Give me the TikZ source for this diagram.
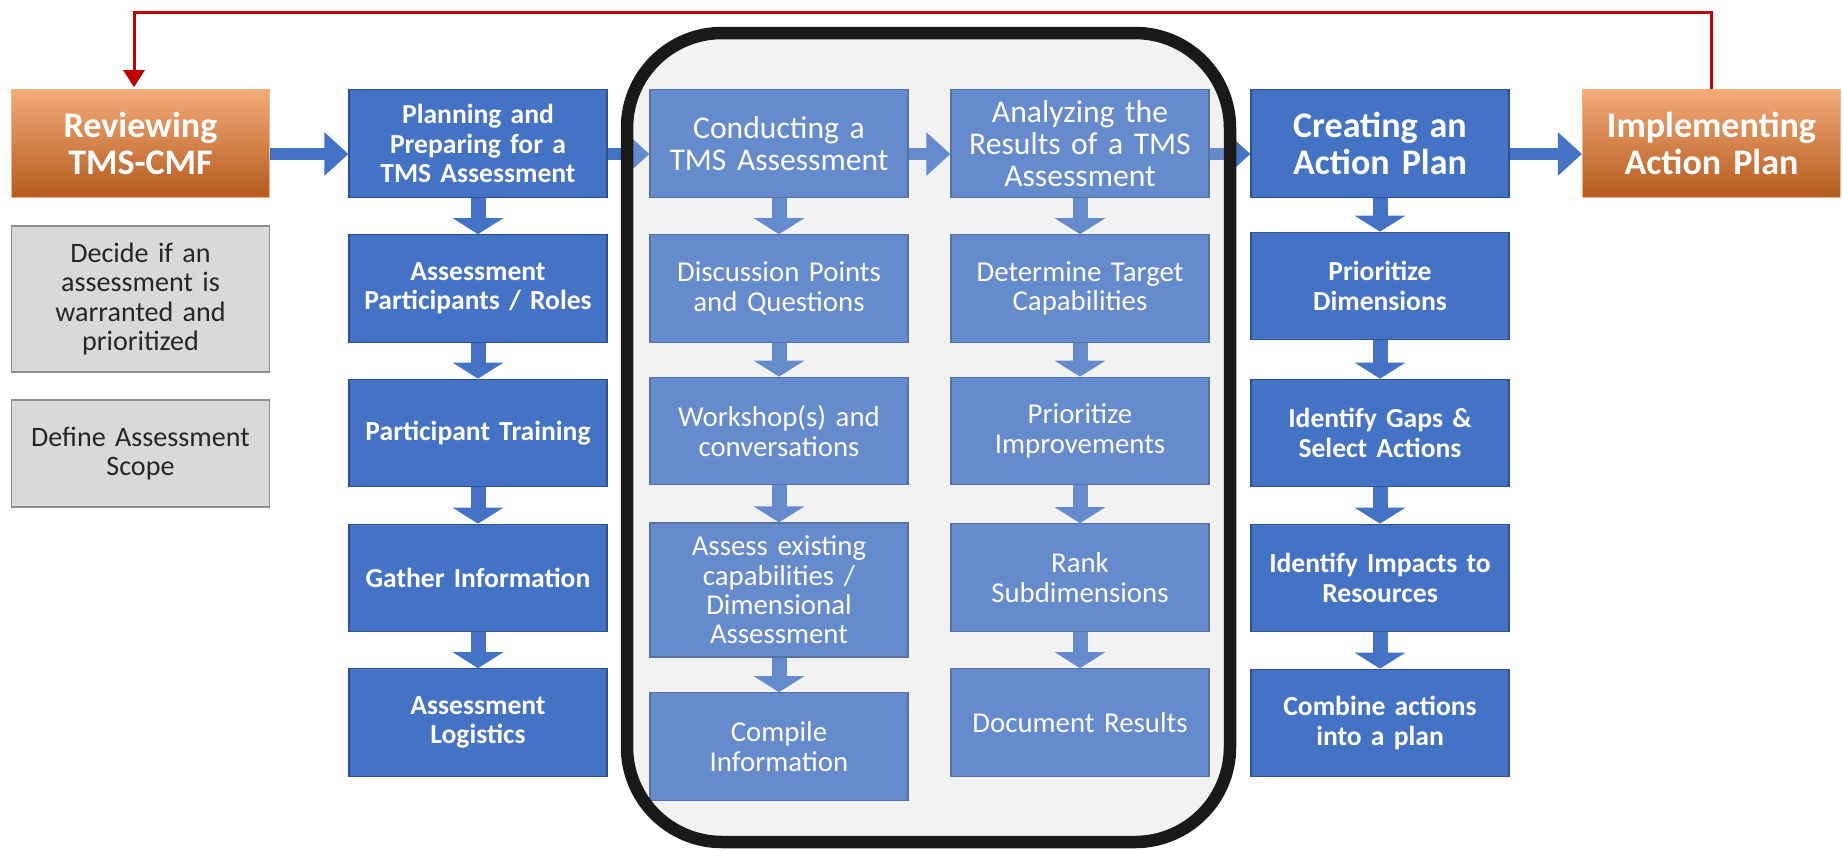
\documentclass[tikz,border=0pt]{standalone}
\usepackage{fontspec}
\setmainfont{Carlito}
\usetikzlibrary{arrows.meta}
\definecolor{boxblue}{HTML}{4472C4}
\definecolor{boxline}{HTML}{2F528F}
\definecolor{panelgray}{HTML}{F2F2F2}
\definecolor{notegray}{HTML}{D9D9D9}
\definecolor{notedraw}{HTML}{8F8F8F}
\definecolor{notetext}{HTML}{262626}
\definecolor{orangetop}{HTML}{F3AB78}
\definecolor{orangemid}{HTML}{ED7D31}
\definecolor{orangebot}{HTML}{B45A1E}
\definecolor{orangeline}{HTML}{F4B183}
\definecolor{fbred}{HTML}{C00000}
\begin{document}
\begin{tikzpicture}[x=0.02cm,y=-0.02cm,
  box/.style={rectangle,draw=boxline,line width=0.7pt,fill=boxblue,text=white,minimum width=5.16cm,minimum height=2.15cm,text width=5cm,align=center,inner sep=0pt,font=\fontsize{15.7}{16.7}\selectfont\bfseries},
  inbox/.style={box,font=\fontsize{16.4}{16.7}\selectfont},
  inhead/.style={box,font=\fontsize{18}{18.4}\selectfont},
  bigbox/.style={box,font=\fontsize{20.5}{21}\selectfont\bfseries},
  orangebox/.style={bigbox,draw=orangeline,top color=orangetop,middle color=orangemid,bottom color=orangebot},
  notebox/.style={box,fill=notegray,draw=notedraw,line width=1.1pt,text=notetext,font=\fontsize{16}{16.7}\selectfont},
  harrow/.style={draw=boxblue,line width=0.24cm,-{Triangle[width=0.84cm,length=0.48cm]}},
  darrow/.style={draw=boxblue,line width=0.3cm,-{Triangle[width=1cm,length=0.32cm]}},
  fbline/.style={draw=fbred,line width=0.06cm,-{Triangle[width=0.42cm,length=0.34cm]},shorten >=0.04cm}]
\useasboundingbox (0,0) rectangle (1843,850);
\fill[panelgray,rounded corners=1.9cm] (627,33) rectangle (1230,842);

\node[orangebox] (rev) at (140.5,143.5) {Reviewing\\TMS-CMF};
\node[box] (plan) at (478,143.5) {Planning and\\Preparing for a\\TMS Assessment};
\node[inhead] (cond) at (779,143.5) {Conducting a\\TMS Assessment};
\node[inhead] (anal) at (1080,143.5) {Analyzing the\\Results of a TMS\\Assessment};
\node[bigbox] (crea) at (1380,143.5) {Creating an\\Action Plan};
\node[orangebox] (impl) at (1711.5,143.5) {Implementing\\Action Plan};

\node[notebox,minimum height=2.92cm] (decide) at (140.5,299) {Decide if an\\assessment is\\warranted and\\prioritized};
\node[notebox] (scope) at (140.5,453.5) {Define Assessment\\Scope};

\node[box] (p1) at (478,288.5) {Assessment\\Participants / Roles};
\node[box] (p2) at (478,433) {Participant Training};
\node[box] (p3) at (478,578) {Gather Information};
\node[box] (p4) at (478,722.5) {Assessment\\Logistics};

\node[inbox] (c1) at (779,288.5) {Discussion Points\\and Questions};
\node[inbox] (c2) at (779,431) {Workshop(s) and\\conversations};
\node[inbox,minimum height=2.68cm] (c3) at (779,590) {Assess existing\\capabilities /\\Dimensional\\Assessment};
\node[inbox] (c4) at (779,746.5) {Compile\\Information};

\node[inbox] (a1) at (1080,288.5) {Determine Target\\Capabilities};
\node[inbox] (a2) at (1080,431) {Prioritize\\Improvements};
\node[inbox] (a3) at (1080,577.5) {Rank\\Subdimensions};
\node[inbox] (a4) at (1080,722.5) {Document Results};

\node[box] (r1) at (1380,286) {Prioritize\\Dimensions};
\node[box] (r2) at (1380,433) {Identify Gaps \&\\Select Actions};
\node[box] (r3) at (1380,578) {Identify Impacts to\\Resources};
\node[box] (r4) at (1380,723) {Combine actions\\into a plan};

\draw[harrow] ([yshift=-0.21cm]rev.east) -- ([yshift=-0.21cm]plan.west);
\draw[harrow] ([yshift=-0.21cm]plan.east) -- ([yshift=-0.21cm]cond.west);
\draw[harrow] ([yshift=-0.21cm]cond.east) -- ([yshift=-0.21cm]anal.west);
\draw[harrow] ([yshift=-0.21cm]anal.east) -- ([yshift=-0.21cm]crea.west);
\draw[harrow] ([yshift=-0.21cm]crea.east) -- ([yshift=-0.21cm]impl.west);

\draw[darrow] (plan.south) -- (p1.north); \draw[darrow] (p1.south) -- (p2.north);
\draw[darrow] (p2.south) -- (p3.north); \draw[darrow] (p3.south) -- (p4.north);
\draw[darrow] (cond.south) -- (c1.north); \draw[darrow] (c1.south) -- (c2.north);
\draw[darrow] (c2.south) -- (c3.north); \draw[darrow] (c3.south) -- (c4.north);
\draw[darrow] (anal.south) -- (a1.north); \draw[darrow] (a1.south) -- (a2.north);
\draw[darrow] (a2.south) -- (a3.north); \draw[darrow] (a3.south) -- (a4.north);
\draw[darrow] (crea.south) -- (r1.north); \draw[darrow] (r1.south) -- (r2.north);
\draw[darrow] (r2.south) -- (r3.north); \draw[darrow] (r3.south) -- (r4.north);

\fill[panelgray,fill opacity=0.2,rounded corners=1.9cm] (627,33) rectangle (1230,842);
\draw[black!90,line width=0.25cm,rounded corners=1.9cm] (627,33) rectangle (1230,842);

\coordinate (fbtop) at (0,12);
\coordinate (fbend) at ([xshift=-0.13cm]rev.north);
\draw[fbline] (impl.north) |- (fbtop -| fbend) -- (fbend);
\end{tikzpicture}
\end{document}
